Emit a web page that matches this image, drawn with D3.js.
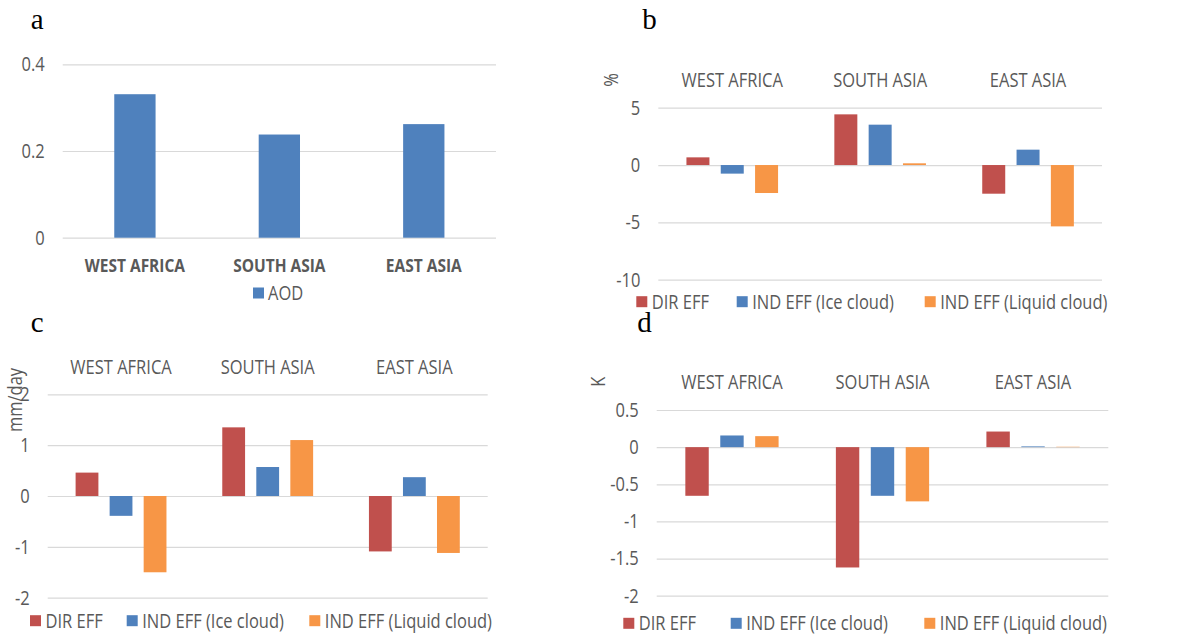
<!DOCTYPE html>
<html>
<head>
<meta charset="utf-8">
<script src="https://cdn.jsdelivr.net/npm/d3@7"></script>
<style>
  body { margin: 0; background: #fff; }
  text { font-family: "Open Sans", "Noto Sans", sans-serif; fill: #595959; }
  /* the original font is narrow and tall; stretch glyphs a little vertically */
  text.tall, .grid text { transform-box: fill-box; transform-origin: center; transform: scaleY(1.16); }
  .panel-label { font-family: "Liberation Serif", "DejaVu Serif", serif; fill: #000; font-size: 29px; }
  .grid line { stroke: #d9d9d9; stroke-width: 1.2; }
  .grid text { font-size: 16.5px; }
</style>
</head>
<body>
<svg id="chart" width="1178" height="634"></svg>
<script>
const regions = ["WEST AFRICA", "SOUTH ASIA", "EAST ASIA"];
const effects = ["DIR EFF", "IND EFF (Ice cloud)", "IND EFF (Liquid cloud)"];

// a: aerosol optical depth
const aod = [0.331, 0.238, 0.262];
const ticksA = [0, 0.2, 0.4];

// b: % change
const pctDir = [0.67, 4.42, -2.5];
const pctIce = [-0.75, 3.52, 1.34];
const pctLiq = [-2.44, 0.15, -5.35];
const ticksB = [-10, -5, 0, 5];

// c: precipitation, mm/day
const precipDir = [0.46, 1.35, -1.09];
const precipIce = [-0.39, 0.57, 0.37];
const precipLiq = [-1.5, 1.1, -1.12];
const ticksC = [-2, -1, 0, 1, 2];

// d: temperature, K
const tempDir = [-0.655, -1.62, 0.21];
const tempIce = [0.157, -0.655, 0.01];
const tempLiq = [0.148, -0.73, 0.005];
const ticksD = [-2, -1.5, -1, -0.5, 0, 0.5];

const colors = ["#c0504d", "#4f81bd", "#f79646"];

const svg = d3.select("#chart");
svg.append("rect").attr("width", 1178).attr("height", 634).attr("fill", "#fff");

function grid(g, y, ticks, left, right) {
    g.append("g")
        .attr("class", "grid")
        .attr("transform", `translate(${left},0)`)
        .call(d3.axisLeft(y)
            .tickValues(ticks)
            .tickSize(-(right - left))
            .tickPadding(18)
            .tickFormat(d => String(d)))
        .call(s => s.select(".domain").remove());
}

// ---- panel a ----
{
    const g = svg.append("g");
    const left = 62.7, right = 496;
    const x = d3.scaleBand().domain(regions).range([left, right])
        .paddingInner(0.714).paddingOuter(0.357);
    const y = d3.scaleLinear().domain([0, 0.4]).range([237.7, 64.3]);

    grid(g, y, ticksA, left, right);

    g.selectAll(".bar")
        .data(regions)
        .enter().append("rect")
        .attr("x", d => x(d))
        .attr("width", x.bandwidth())
        .attr("y", (d, i) => y(aod[i]))
        .attr("height", (d, i) => y(0) - y(aod[i]))
        .attr("fill", colors[1]);

    g.selectAll(".cat")
        .data(regions)
        .enter().append("text")
        .attr("class", "tall")
        .attr("x", d => x(d) + x.bandwidth() / 2)
        .attr("y", 265.7)
        .attr("dy", "0.35em")
        .attr("text-anchor", "middle")
        .style("font-weight", "bold")
        .style("font-size", "15.5px")
        .text(d => d);

    g.append("rect").attr("x", 253).attr("y", 287.5).attr("width", 11).attr("height", 11).attr("fill", colors[1]);
    g.append("text").attr("class", "tall").attr("x", 268).attr("y", 293).attr("dy", "0.35em")
        .style("font-size", "16.5px").text("AOD");

    g.append("text").attr("class", "panel-label").attr("x", 30.7).attr("y", 29).text("a");
}

// ---- panels b, c, d ----
function groupedPanel(opt) {
    const g = svg.append("g");
    const series = opt.series;
    const x0 = d3.scaleBand().domain(regions).range([opt.left, opt.right]);
    const x1 = d3.scaleBand().domain(effects).range([0, x0.bandwidth()])
        .paddingInner(0.33).paddingOuter(0.82);
    const y = d3.scaleLinear().domain(opt.domain).range(opt.range);

    grid(g, y, opt.ticks, opt.left, opt.right);

    regions.forEach((r, i) => {
        const grp = g.append("g").attr("transform", `translate(${x0(r)},0)`);
        grp.selectAll("rect")
            .data(effects)
            .enter().append("rect")
            .attr("x", e => x1(e))
            .attr("width", x1.bandwidth())
            .attr("y", (e, k) => Math.min(y(series[k][i]), y(0)))
            .attr("height", (e, k) => Math.abs(y(series[k][i]) - y(0)))
            .attr("fill", (e, k) => colors[k]);
    });

    g.selectAll(".cat")
        .data(regions)
        .enter().append("text")
        .attr("class", "tall")
        .attr("x", d => x0(d) + x0.bandwidth() / 2)
        .attr("y", opt.catY)
        .attr("dy", "0.35em")
        .attr("text-anchor", "middle")
        .style("font-size", "16.5px")
        .text(d => d);

    g.append("text")
        .attr("transform", `translate(${opt.unitX},${opt.unitY}) rotate(-90) scale(1,1.16)`)
        .attr("dy", "0.35em")
        .attr("text-anchor", "middle")
        .style("font-size", "16.5px")
        .text(opt.unit);

    const legend = g.selectAll(".legend")
        .data(effects)
        .enter().append("g")
        .attr("transform", (d, i) => `translate(${opt.legendX[i]},${opt.legendY})`);
    legend.append("rect")
        .attr("y", -5.5)
        .attr("width", 11)
        .attr("height", 11)
        .attr("fill", (d, i) => colors[i]);
    legend.append("text")
        .attr("class", "tall")
        .attr("x", 15.5)
        .attr("dy", "0.35em")
        .style("font-size", "16.5px")
        .text(d => d);

    g.append("text").attr("class", "panel-label")
        .attr("x", opt.labelX).attr("y", opt.labelY).text(opt.label);
}

groupedPanel({
    label: "b", labelX: 642.3, labelY: 29,
    series: [pctDir, pctIce, pctLiq], ticks: ticksB,
    domain: [-10, 5], range: [279.7, 107.7],
    left: 658.3, right: 1102, catY: 80,
    unit: "%", unitX: 611.7, unitY: 80,
    legendX: [636.3, 736.7, 924.7], legendY: 301.7
});

groupedPanel({
    label: "c", labelX: 30.7, labelY: 331.7,
    series: [precipDir, precipIce, precipLiq], ticks: ticksC,
    domain: [-2, 2], range: [597.7, 394.3],
    left: 47.7, right: 487.7, catY: 366.7,
    unit: "mm/day", unitX: 15, unitY: 400,
    legendX: [30, 126.7, 309.3], legendY: 620.7
});

groupedPanel({
    label: "d", labelX: 637.3, labelY: 331.7,
    series: [tempDir, tempIce, tempLiq], ticks: ticksD,
    domain: [-2, 0.5], range: [595.7, 410],
    left: 656.7, right: 1108.3, catY: 382.7,
    unit: "K", unitX: 598.3, unitY: 381.7,
    legendX: [623.3, 730.7, 924.3], legendY: 623.3
});
</script>
</body>
</html>
